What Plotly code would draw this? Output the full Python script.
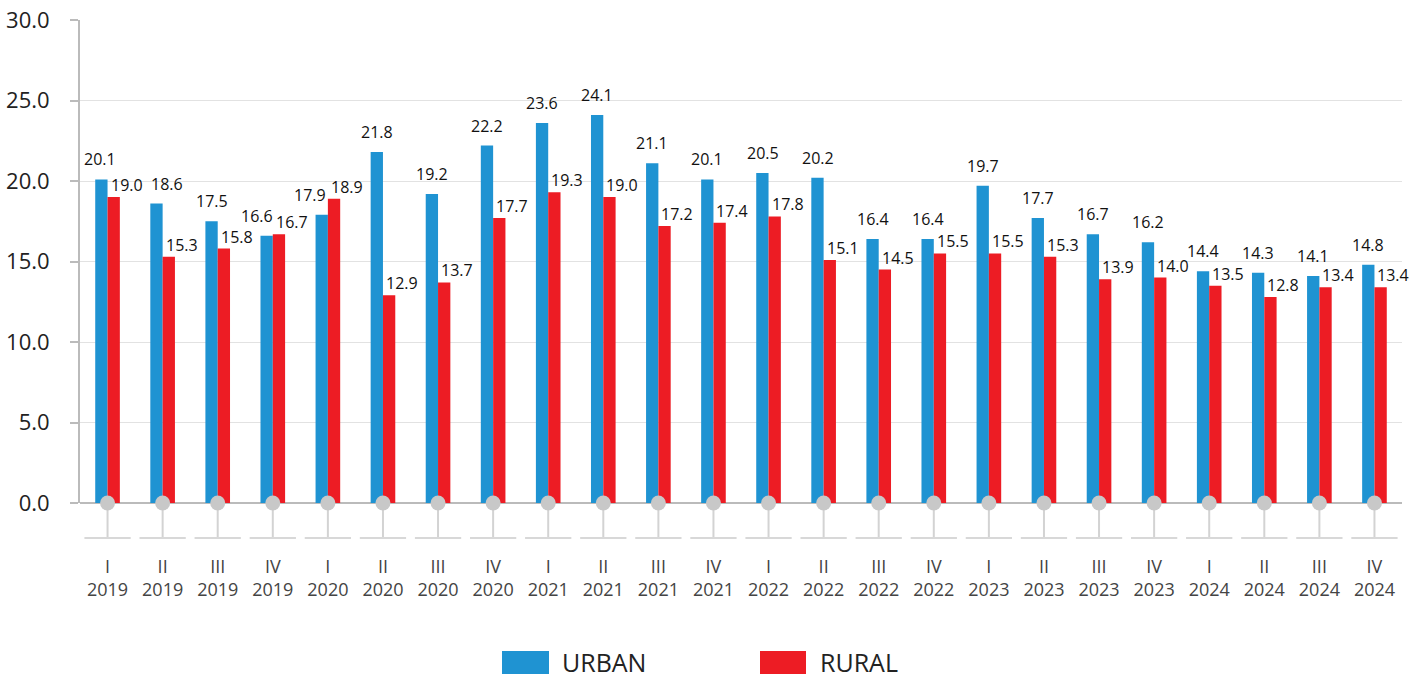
import plotly.graph_objects as go

quarters = ["I", "II", "III", "IV"] * 6
years = [str(y) for y in range(2019, 2025) for _ in range(4)]
urban = [20.1, 18.6, 17.5, 16.6, 17.9, 21.8, 19.2, 22.2, 23.6, 24.1, 21.1, 20.1,
         20.5, 20.2, 16.4, 16.4, 19.7, 17.7, 16.7, 16.2, 14.4, 14.3, 14.1, 14.8]
rural = [19.0, 15.3, 15.8, 16.7, 18.9, 12.9, 13.7, 17.7, 19.3, 19.0, 17.2, 17.4,
         17.8, 15.1, 14.5, 15.5, 15.5, 15.3, 13.9, 14.0, 13.5, 12.8, 13.4, 13.4]
y_ticks = [0, 5, 10, 15, 20, 25, 30]

# label nudges (pixels) used by the original chart to avoid label collisions
urban_label_nudge = {0: -2, 1: 10, 3: -10, 4: -12}

BLUE = "#1f93d2"
RED = "#ed1c24"
FONT = "Open Sans"

x = list(range(len(quarters)))
ticktext = [f"{q}<br>{y}" for q, y in zip(quarters, years)]

fig = go.Figure()
fig.add_trace(go.Bar(x=x, y=urban, name="URBAN", marker=dict(color=BLUE, line=dict(width=0))))
fig.add_trace(go.Bar(x=x, y=rural, name="RURAL", marker=dict(color=RED, line=dict(width=0))))
fig.add_trace(go.Scatter(x=x, y=[0] * len(x), mode="markers", cliponaxis=False,
                         marker=dict(color="#c8c8c8", size=15, line=dict(width=0)),
                         showlegend=False, hoverinfo="skip"))

annotations = []
for xi, u, r in zip(x, urban, rural):
    annotations.append(dict(x=xi, y=u, text=f"{u:.1f}", showarrow=False,
                            xshift=-6 + urban_label_nudge.get(xi, 0), yshift=7,
                            yanchor="bottom", xanchor="center",
                            font=dict(family=FONT, size=16, color="#111")))
    annotations.append(dict(x=xi, y=r, text=f"{r:.1f}", showarrow=False, xshift=1, yshift=-1,
                            yanchor="bottom", xanchor="left",
                            font=dict(family=FONT, size=16, color="#111")))

shapes = []
stem_bottom = -35 / 483
for xi in x:
    shapes.append(dict(type="line", xref="x", yref="paper", x0=xi, x1=xi, y0=0, y1=stem_bottom,
                       line=dict(color="#d3d3d3", width=2), layer="below"))
    shapes.append(dict(type="line", xref="x", yref="paper", x0=xi - 0.42, x1=xi + 0.42,
                       y0=stem_bottom, y1=stem_bottom, line=dict(color="#d8d8d8", width=2), layer="below"))

# custom legend
W, H = 1322, 483
def px_x(p):
    return (p - 80) / W
def px_y(p):
    return (503 - p) / H

for x0, x1, tx, col, label in [(502, 549, 560, BLUE, "URBAN"), (760, 806, 818, RED, "RURAL")]:
    shapes.append(dict(type="rect", xref="paper", yref="paper", x0=px_x(x0), x1=px_x(x1),
                       y0=px_y(651), y1=px_y(676), fillcolor=col, line=dict(width=0)))
    annotations.append(dict(xref="paper", yref="paper", x=px_x(tx), y=px_y(662), text=label,
                            showarrow=False, xanchor="left", yanchor="middle",
                            font=dict(family=FONT, size=25, color="#222")))

fig.update_layout(
    width=1421, height=674,
    margin=dict(l=80, r=19, t=20, b=171, autoexpand=False),
    paper_bgcolor="white", plot_bgcolor="white",
    barmode="group", bargap=0.553, bargroupgap=0,
    showlegend=False,
    font=dict(family=FONT),
    annotations=annotations, shapes=shapes,
)
fig.update_xaxes(range=[-0.5, len(x) - 0.5], tickvals=x, ticktext=ticktext, automargin=False,
                 showgrid=False, showline=False, zeroline=False, ticks="",
                 tickfont=dict(family=FONT, size=18, color="#444"), ticklabelstandoff=51)
fig.update_yaxes(range=[0, 30], tickvals=y_ticks, ticktext=[f"{v:.1f}" for v in y_ticks],
                 automargin=False,
                 showgrid=True, gridcolor="#e2e2e2", gridwidth=1,
                 showline=True, linecolor="#bbbbbb", linewidth=2,
                 zeroline=True, zerolinecolor="#bbbbbb", zerolinewidth=2,
                 ticks="outside", ticklen=8, tickcolor="#bbbbbb", tickwidth=2,
                 tickfont=dict(family=FONT, size=22, color="#222"), ticklabelstandoff=16)

fig.write_html("out.html", config={"displayModeBar": False},
               post_script="document.body.style.margin='0';document.body.style.overflow='hidden';")
